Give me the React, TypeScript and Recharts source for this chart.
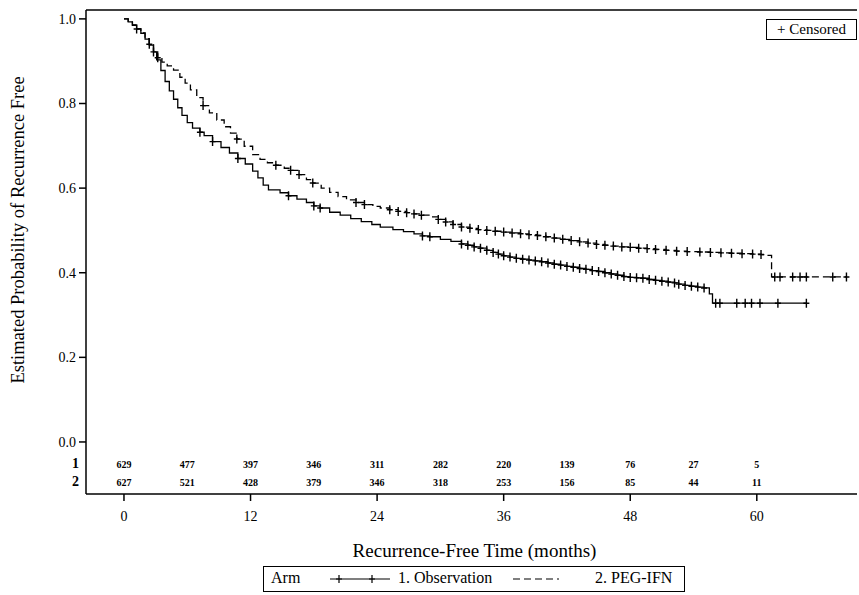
import React from "react";
import { ComposedChart, Line, Scatter, XAxis, YAxis, ReferenceLine, Legend } from "recharts";

const FONT = '"Liberation Serif", "Times New Roman", serif';

// Kaplan-Meier estimates: [month, probability, censored (1) or event (0)]
const observationCurve: [number, number, number][] = [
  [0, 1.0, 0], [0.4, 0.993, 0], [0.8, 0.985, 0], [1.2, 0.976, 1], [1.6, 0.966, 0],
  [2.0, 0.952, 0], [2.4, 0.938, 0], [2.8, 0.922, 1], [3.1, 0.903, 0], [3.5, 0.878, 0],
  [3.9, 0.852, 0], [4.3, 0.83, 0], [4.7, 0.81, 0], [5.1, 0.79, 0], [5.5, 0.772, 0],
  [6.0, 0.755, 0], [6.5, 0.742, 0], [7.2, 0.732, 1], [7.6, 0.724, 0], [8.4, 0.71, 1],
  [9.2, 0.696, 0], [10.0, 0.683, 0], [10.8, 0.67, 1], [11.5, 0.657, 0], [12.2, 0.64, 0],
  [12.7, 0.624, 0], [13.2, 0.607, 0], [13.7, 0.596, 0], [14.8, 0.589, 0], [15.6, 0.582, 1],
  [16.4, 0.574, 0], [17.3, 0.566, 0], [18.0, 0.558, 1], [18.6, 0.553, 1], [19.5, 0.543, 0],
  [20.5, 0.536, 0], [21.5, 0.528, 0], [22.5, 0.521, 0], [23.5, 0.514, 0], [24.3, 0.508, 0],
  [25.5, 0.502, 0], [26.5, 0.497, 0], [27.5, 0.492, 0], [28.3, 0.487, 1], [29.0, 0.485, 1],
  [30.0, 0.479, 0], [31.0, 0.474, 0], [32.0, 0.468, 1], [32.6, 0.465, 1], [33.2, 0.461, 1],
  [33.8, 0.458, 1], [34.4, 0.453, 1], [35.0, 0.448, 1], [35.5, 0.444, 1], [36.0, 0.44, 1],
  [36.6, 0.437, 1], [37.2, 0.434, 1], [37.8, 0.432, 1], [38.4, 0.43, 1], [39.0, 0.428, 1],
  [39.6, 0.426, 1], [40.2, 0.423, 1], [40.8, 0.42, 1], [41.4, 0.418, 1], [42.0, 0.415, 1],
  [42.6, 0.413, 1], [43.2, 0.41, 1], [43.8, 0.408, 1], [44.4, 0.405, 1], [45.0, 0.403, 1],
  [45.6, 0.4, 1], [46.2, 0.397, 1], [46.8, 0.394, 1], [47.4, 0.391, 1], [48.0, 0.389, 1],
  [48.6, 0.388, 1], [49.2, 0.387, 1], [49.8, 0.384, 1], [50.4, 0.382, 1], [51.0, 0.38, 1],
  [51.6, 0.378, 1], [52.2, 0.376, 1], [52.6, 0.373, 1], [53.2, 0.37, 1], [53.8, 0.368, 1],
  [54.4, 0.366, 1], [55.0, 0.364, 1], [55.5, 0.35, 0], [55.8, 0.328, 0], [56.1, 0.328, 1],
  [56.5, 0.328, 1], [58.1, 0.328, 1], [58.9, 0.328, 1], [59.5, 0.328, 1], [60.3, 0.328, 1],
  [62.0, 0.328, 1], [64.7, 0.328, 1],
];

const pegIfnCurve: [number, number, number][] = [
  [0, 1.0, 0], [0.4, 0.994, 0], [0.8, 0.986, 0], [1.2, 0.977, 0], [1.6, 0.967, 0],
  [2.0, 0.953, 0], [2.4, 0.94, 1], [2.8, 0.925, 0], [3.2, 0.908, 1], [3.6, 0.898, 0],
  [4.1, 0.889, 0], [4.7, 0.879, 0], [5.3, 0.862, 0], [5.8, 0.848, 0], [6.3, 0.832, 0],
  [6.9, 0.814, 0], [7.5, 0.795, 1], [8.1, 0.778, 0], [8.8, 0.761, 0], [9.5, 0.745, 0],
  [10.1, 0.73, 0], [10.7, 0.716, 1], [11.4, 0.699, 0], [12.2, 0.679, 0], [12.9, 0.668, 0],
  [13.6, 0.66, 0], [14.4, 0.654, 1], [15.2, 0.647, 0], [15.8, 0.642, 1], [16.6, 0.632, 1],
  [17.3, 0.62, 0], [17.9, 0.612, 1], [18.7, 0.6, 0], [19.5, 0.59, 0], [20.3, 0.58, 0],
  [21.1, 0.572, 0], [22.0, 0.566, 1], [22.8, 0.561, 1], [23.6, 0.557, 0], [24.3, 0.553, 0],
  [25.2, 0.549, 1], [26.0, 0.545, 1], [26.8, 0.542, 1], [27.5, 0.539, 1], [28.2, 0.536, 1],
  [29.0, 0.532, 0], [29.8, 0.526, 1], [30.5, 0.52, 1], [31.2, 0.514, 1], [32.0, 0.508, 1],
  [32.8, 0.505, 1], [33.6, 0.502, 1], [34.4, 0.5, 1], [35.2, 0.498, 1], [36.0, 0.496, 1],
  [36.8, 0.494, 1], [37.6, 0.492, 1], [38.4, 0.49, 1], [39.2, 0.488, 1], [40.0, 0.485, 1],
  [40.8, 0.482, 1], [41.6, 0.479, 1], [42.4, 0.476, 1], [43.2, 0.473, 1], [44.0, 0.47, 1],
  [44.8, 0.467, 1], [45.6, 0.465, 1], [46.4, 0.463, 1], [47.2, 0.461, 1], [48.0, 0.46, 1],
  [48.8, 0.458, 1], [49.6, 0.457, 1], [50.4, 0.455, 1], [51.4, 0.453, 1], [52.4, 0.451, 1],
  [53.4, 0.45, 1], [54.6, 0.449, 1], [55.6, 0.448, 1], [56.6, 0.447, 1], [57.6, 0.446, 1],
  [58.6, 0.445, 1], [59.6, 0.444, 1], [60.4, 0.443, 1], [61.0, 0.441, 0], [61.4, 0.39, 0],
  [61.7, 0.39, 1], [62.2, 0.39, 1], [63.4, 0.39, 1], [64.1, 0.39, 1], [64.7, 0.39, 1],
  [67.2, 0.39, 1], [68.5, 0.39, 1],
];

// number at risk
const riskTimes = [0, 6, 12, 18, 24, 30, 36, 42, 48, 54, 60];
const riskObservation = [629, 477, 397, 346, 311, 282, 220, 139, 76, 27, 5];
const riskPegIfn = [627, 521, 428, 379, 346, 318, 253, 156, 85, 44, 11];

const xTicks = [0, 12, 24, 36, 48, 60];
const yTicks = [0, 0.2, 0.4, 0.6, 0.8, 1.0];

const X_DOMAIN: [number, number] = [-3.6, 69.5];
const Y_DOMAIN: [number, number] = [-0.123, 1.021];
const ROW1_Y = -0.054;
const ROW2_Y = -0.095;

const toPoints = (curve: [number, number, number][]) =>
  curve.map(([t, s, c]) => ({ t, s, c }));

const observationData = toPoints(observationCurve);
const pegIfnData = toPoints(pegIfnCurve);
const riskData1 = riskTimes.map((t, i) => ({ t, y: ROW1_Y, n: riskObservation[i] }));
const riskData2 = riskTimes.map((t, i) => ({ t, y: ROW2_Y, n: riskPegIfn[i] }));

const CensorDot = (props: any) => {
  const { cx, cy, payload, index } = props;
  if (!payload || !payload.c || cx == null || cy == null) return <g key={`n${index}`} />;
  return (
    <path
      key={`c${index}`}
      d={`M${cx - 3},${cy}h6M${cx},${cy - 4.5}v9`}
      stroke="#000"
      strokeWidth={1.4}
      fill="none"
    />
  );
};

const RiskText = (props: any) => (
  <text
    x={props.cx}
    y={props.cy}
    textAnchor="middle"
    dominantBaseline="central"
    fontSize={10}
    fontWeight="bold"
    fontFamily={FONT}
    fill="#000"
  >
    {props.payload.n}
  </text>
);

const ArmLegend = () => (
  <div
    style={{
      position: "relative",
      width: 422,
      height: 26,
      border: "1.5px solid #000",
      boxSizing: "border-box",
      fontFamily: FONT,
      fontSize: 16,
      color: "#000",
      background: "#fff",
    }}
  >
    <span style={{ position: "absolute", left: 7, top: 2 }}>Arm</span>
    <svg style={{ position: "absolute", left: 66, top: 0 }} width={62} height={24}>
      <line x1={0} y1={12} x2={60} y2={12} stroke="#000" strokeWidth={1.2} />
      <path d="M9,8v8M6,12h6M42,8v8M39,12h6" stroke="#000" strokeWidth={1.2} />
    </svg>
    <span style={{ position: "absolute", left: 134, top: 2 }}>1. Observation</span>
    <svg style={{ position: "absolute", left: 249, top: 0 }} width={48} height={24}>
      <line x1={0} y1={12} x2={46} y2={12} stroke="#000" strokeWidth={1.2} strokeDasharray="7 4" />
    </svg>
    <span style={{ position: "absolute", left: 331, top: 2 }}>2. PEG-IFN</span>
  </div>
);

export default function App() {
  return (
    <div style={{ position: "absolute", left: 0, top: 0, width: 859, height: 595, background: "#fff" }}>
      <ComposedChart width={859} height={595} margin={{ top: 10, right: 2, bottom: 71, left: 26 }}>
        <XAxis
          dataKey="t"
          type="number"
          domain={X_DOMAIN}
          ticks={xTicks}
          allowDataOverflow
          axisLine={{ stroke: "#000", strokeWidth: 1.5 }}
          tickLine={{ stroke: "#000", strokeWidth: 1.5 }}
          tickSize={7}
          tickMargin={10}
          tick={{ fill: "#000", fontSize: 14, fontFamily: FONT }}
          height={30}
          label={(p: any) => {
            const vb = p.viewBox || { x: 86, y: 494, width: 771 };
            return (
              <text
                x={vb.x + vb.width / 2 + 3}
                y={vb.y + 56}
                textAnchor="middle"
                dominantBaseline="central"
                fontSize={19}
                fontFamily={FONT}
                fill="#000"
              >
                Recurrence-Free Time (months)
              </text>
            );
          }}
        />
        <YAxis
          type="number"
          domain={Y_DOMAIN}
          ticks={yTicks}
          allowDataOverflow
          width={60}
          axisLine={{ stroke: "#000", strokeWidth: 1.5 }}
          tickLine={{ stroke: "#000", strokeWidth: 1.5 }}
          tickSize={7}
          tickMargin={3}
          tickFormatter={(v: number) => v.toFixed(1)}
          tick={{ fill: "#000", fontSize: 14, fontFamily: FONT }}
          label={() => (
            <text
              x={18}
              y={230}
              transform="rotate(-90 18 230)"
              textAnchor="middle"
              dominantBaseline="central"
              fontSize={18.5}
              fontFamily={FONT}
              fill="#000"
            >
              Estimated Probability of Recurrence Free
            </text>
          )}
        />
        <ReferenceLine y={Y_DOMAIN[1]} stroke="#000" strokeWidth={1.5} ifOverflow="visible" />
        <Line
          data={observationData}
          dataKey="s"
          type="stepAfter"
          stroke="#000"
          strokeWidth={1.3}
          dot={CensorDot}
          activeDot={false}
          isAnimationActive={false}
        />
        <Line
          data={pegIfnData}
          dataKey="s"
          type="stepAfter"
          stroke="#000"
          strokeWidth={1.3}
          strokeDasharray="7 4"
          dot={CensorDot}
          activeDot={false}
          isAnimationActive={false}
        />
        <Scatter data={riskData1} dataKey="y" shape={RiskText} isAnimationActive={false} />
        <Scatter data={riskData2} dataKey="y" shape={RiskText} isAnimationActive={false} />
        <Legend
          layout="horizontal"
          verticalAlign="middle"
          align="center"
          content={ArmLegend}
          wrapperStyle={{ left: 263, top: 566, width: 422, height: 26 }}
        />
      </ComposedChart>
      <div
        style={{
          position: "absolute",
          left: 766,
          top: 19,
          width: 91,
          height: 21,
          border: "1.5px solid #000",
          boxSizing: "border-box",
          fontFamily: FONT,
          fontSize: 15,
          lineHeight: "18px",
          textAlign: "center",
          background: "#fff",
        }}
      >
        + Censored
      </div>
      <div style={{ position: "absolute", left: 72, top: 456, fontFamily: FONT, fontSize: 14, fontWeight: "bold" }}>1</div>
      <div style={{ position: "absolute", left: 72, top: 474, fontFamily: FONT, fontSize: 14, fontWeight: "bold" }}>2</div>
    </div>
  );
}
